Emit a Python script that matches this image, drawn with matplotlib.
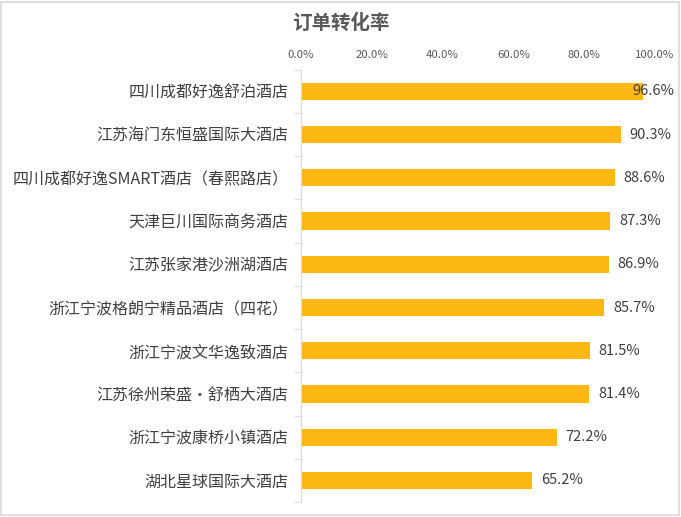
import numpy as np
import matplotlib
matplotlib.use("Agg")
import matplotlib.pyplot as plt
from matplotlib.patches import Rectangle
from matplotlib.ticker import FuncFormatter

plt.rcParams['font.family'] = ['Noto Sans CJK SC', 'DejaVu Sans']

# ── Données ──────────────────────────────────────────────────────────────────
hotels = [
    "四川成都好逸舒泊酒店",
    "江苏海门东恒盛国际大酒店",
    "四川成都好逸SMART酒店（春熙路店）",
    "天津巨川国际商务酒店",
    "江苏张家港沙洲湖酒店",
    "浙江宁波格朗宁精品酒店（四花）",
    "浙江宁波文华逸致酒店",
    "江苏徐州荣盛·舒栖大酒店",
    "浙江宁波康桥小镇酒店",
    "湖北星球国际大酒店",
]
taux = [96.6, 90.3, 88.6, 87.3, 86.9, 85.7, 81.5, 81.4, 72.2, 65.2]
x_ticks = [0, 20, 40, 60, 80, 100]

BAR_COLOR = "#FDB813"
TXT_DARK = "#404040"
TXT_GRAY = "#595959"

fig = plt.figure(figsize=(6.81, 5.17), dpi=100)
ax = fig.add_axes([0.442, 0.029, 0.520, 0.836])

y = np.arange(len(hotels))
ax.barh(y, taux, height=0.4, color=BAR_COLOR)

ax.set_xlim(0, 100)
ax.set_ylim(len(hotels) - 0.5, -0.5)
ax.set_xticks(x_ticks)
ax.xaxis.set_major_formatter(FuncFormatter(lambda v, p: f"{v:.1f}%"))
ax.xaxis.tick_top()
ax.tick_params(axis="x", length=0, labelsize=8.2, labelcolor=TXT_GRAY, pad=7)

ax.set_yticks(y)
ax.set_yticklabels(hotels, fontsize=11.5, color=TXT_DARK)
ax.set_yticks(np.arange(-0.5, len(hotels)), minor=True)
ax.tick_params(axis="y", which="major", length=0, pad=9)
ax.tick_params(axis="y", which="minor", length=5, color="#D9D9D9")

for s in ["top", "right", "bottom"]:
    ax.spines[s].set_visible(False)
ax.spines["left"].set_color("#D9D9D9")

# étiquettes de valeur
for yi, v in zip(y, taux):
    if v > 95:
        ax.text(105.3, yi, f"{v:.1f}%", ha="right", va="center",
                fontsize=10.5, color=TXT_DARK, clip_on=False)
    else:
        ax.text(v + 2.5, yi, f"{v:.1f}%", ha="left", va="center",
                fontsize=10.5, color=TXT_DARK)

fig.text(0.5, 0.955, "订单转化率", ha="center", va="center",
         fontsize=14, fontweight="bold", color=TXT_GRAY)

# cadre
fig.patches.append(Rectangle((0.002, 0.003), 0.995, 0.994, transform=fig.transFigure,
                             fill=False, edgecolor="#D9D9D9", linewidth=1.2))

fig.savefig("out.png", dpi=100)
